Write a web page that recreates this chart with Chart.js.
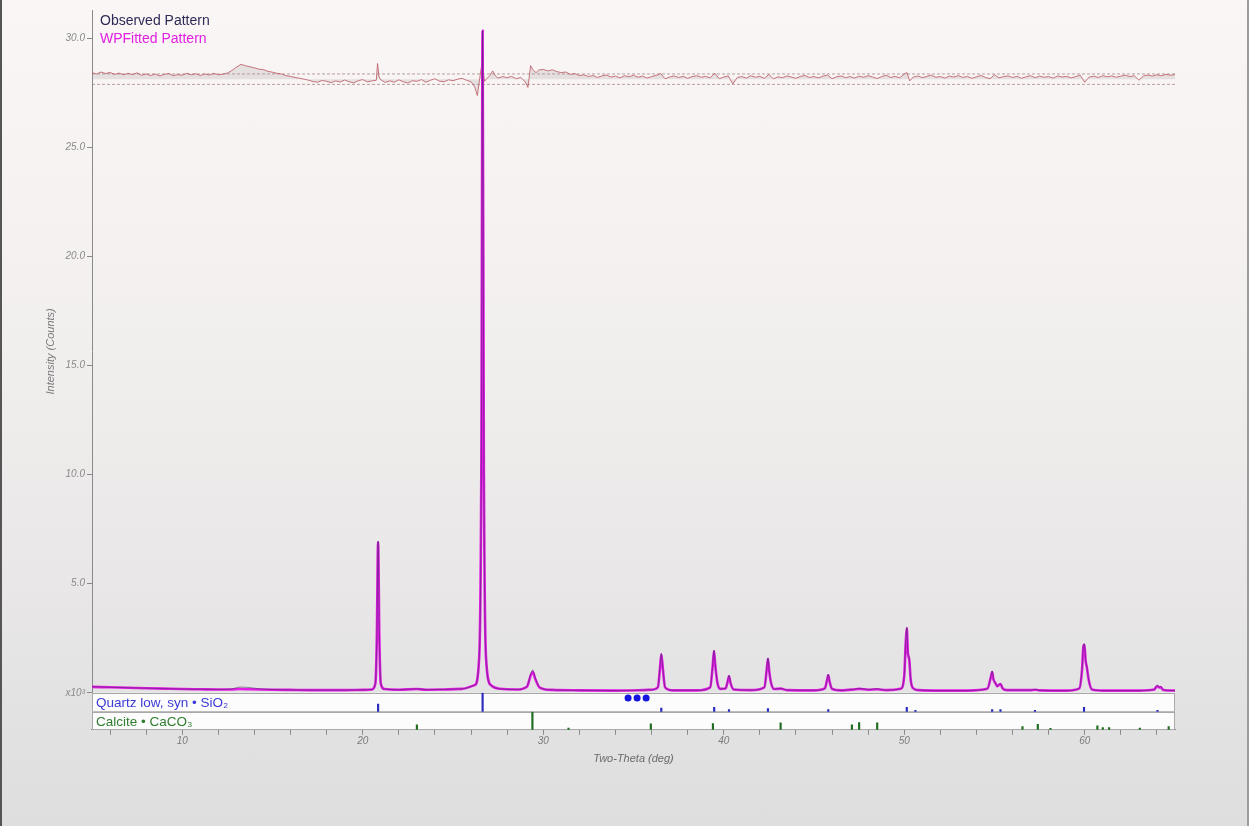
<!DOCTYPE html>
<html>
<head>
<meta charset="utf-8">
<script src="https://cdn.jsdelivr.net/npm/chart.js@4.4.1/dist/chart.umd.min.js"></script>
<style>
  html, body { margin: 0; padding: 0; }
  #wrap {
    position: relative; width: 1249px; height: 826px;
    background: linear-gradient(to bottom, #fbf6f6 0%, #f5f1f1 30%, #e9e7e7 70%, #dedede 100%);
    box-shadow: inset 2px 0 0 #555, inset -2px 0 0 #9c9c9c;
  }
  canvas { position: absolute; left: 0; top: 0; }
</style>
</head>
<body>
<div id="wrap"><canvas id="xrd" width="1249" height="826"></canvas></div>
<script>
// x range (deg 2-theta), tick marks and labelled ticks
const xMin = 5, xMax = 65;
const xTickValues = [6, 8, 10, 12, 14, 16, 18, 20, 22, 24, 26, 28, 30, 32, 34, 36, 38, 40, 42, 44, 46, 48, 50, 52, 54, 56, 58, 60, 62, 64];
const xLabels = [10, 20, 30, 40, 50, 60];

// diffraction pattern, intensity in x10^3 counts
const twoTheta = [5.0, 6.0, 7.0, 8.0, 9.0, 10.0, 11.0, 12.0, 12.7, 13.2, 13.7, 14.3, 15.0, 16.0, 17.0, 18.0, 19.0, 20.0, 20.5,
  20.7, 20.78, 20.85, 20.92, 21.0, 21.2, 22.0, 23.0, 23.5, 24.5, 25.5, 26.2, 26.45, 26.57, 26.64, 26.71, 26.83, 27.1, 27.6, 28.5,
  29.1, 29.3, 29.42, 29.55, 29.8, 30.5, 32.0, 34.0, 35.5, 36.0, 36.35, 36.47, 36.54, 36.62, 36.75, 37.2, 38.5,
  39.25, 39.39, 39.46, 39.53, 39.65, 39.8, 40.1, 40.22, 40.29, 40.38, 40.55, 41.5, 42.25, 42.38, 42.45, 42.52, 42.62, 42.8,
  43.15, 43.5, 45.0, 45.6, 45.72, 45.79, 45.86, 46.0, 46.5, 47.2, 47.5, 48.0, 48.5, 49.0, 49.8, 50.0, 50.08, 50.14, 50.2,
  50.28, 50.36, 50.5, 50.8, 52.0, 53.5, 54.6, 54.8, 54.87, 54.94, 55.05, 55.15, 55.25, 55.33, 55.45, 55.7, 57.0, 57.24,
  57.5, 59.0, 59.7, 59.85, 59.93, 59.98, 60.05, 60.12, 60.22, 60.4, 61.0, 63.0, 63.85, 63.97, 64.03, 64.12, 64.2, 64.35, 65.0];
const observed = [0.28, 0.25, 0.23, 0.21, 0.19, 0.17, 0.16, 0.15, 0.17, 0.26, 0.24, 0.18, 0.15, 0.13, 0.12, 0.12, 0.12, 0.13, 0.15,
  0.45, 2.6, 6.95, 2.6, 0.45, 0.17, 0.14, 0.18, 0.14, 0.15, 0.18, 0.35, 1.6, 10.4, 30.35, 10.4, 1.6, 0.35, 0.18, 0.15,
  0.30, 0.85, 1.05, 0.70, 0.25, 0.13, 0.11, 0.10, 0.12, 0.14, 0.25, 1.2, 1.8, 1.2, 0.25, 0.11, 0.11,
  0.25, 1.3, 1.95, 1.3, 0.45, 0.18, 0.20, 0.55, 0.80, 0.45, 0.15, 0.12, 0.25, 1.1, 1.6, 1.0, 0.45, 0.17,
  0.20, 0.12, 0.11, 0.20, 0.60, 0.85, 0.55, 0.18, 0.11, 0.16, 0.20, 0.15, 0.18, 0.12, 0.18, 0.80, 2.3, 3.0, 1.9,
  1.55, 0.60, 0.20, 0.12, 0.10, 0.10, 0.18, 0.75, 1.0, 0.65, 0.45, 0.30, 0.38, 0.42, 0.20, 0.12, 0.12, 0.15,
  0.11, 0.10, 0.20, 1.1, 2.2, 2.25, 1.5, 1.2, 0.60, 0.15, 0.10, 0.10, 0.15, 0.30, 0.35, 0.25, 0.28, 0.13, 0.10];
const fitted = [0.27, 0.25, 0.23, 0.21, 0.19, 0.17, 0.16, 0.15, 0.15, 0.17, 0.16, 0.15, 0.14, 0.13, 0.12, 0.12, 0.12, 0.13, 0.15,
  0.42, 2.5, 6.9, 2.5, 0.42, 0.17, 0.14, 0.17, 0.14, 0.15, 0.18, 0.35, 1.6, 10.4, 30.35, 10.4, 1.6, 0.35, 0.18, 0.15,
  0.28, 0.78, 0.95, 0.65, 0.24, 0.13, 0.11, 0.10, 0.12, 0.14, 0.25, 1.15, 1.75, 1.15, 0.25, 0.11, 0.11,
  0.25, 1.25, 1.9, 1.25, 0.45, 0.18, 0.20, 0.52, 0.75, 0.43, 0.15, 0.12, 0.25, 1.05, 1.55, 0.98, 0.45, 0.17,
  0.19, 0.12, 0.11, 0.20, 0.57, 0.80, 0.52, 0.18, 0.11, 0.15, 0.18, 0.14, 0.16, 0.12, 0.18, 0.78, 2.25, 2.95, 1.85,
  1.5, 0.58, 0.20, 0.12, 0.10, 0.10, 0.18, 0.72, 0.95, 0.62, 0.44, 0.30, 0.36, 0.40, 0.20, 0.12, 0.12, 0.14,
  0.11, 0.10, 0.20, 1.05, 2.15, 2.2, 1.45, 1.15, 0.58, 0.15, 0.10, 0.10, 0.15, 0.28, 0.30, 0.24, 0.26, 0.13, 0.10];

// difference curve (observed - fitted), x10^3 counts
const resTheta = [5.00, 5.25, 5.50, 5.75, 6.00, 6.25, 6.50, 6.75, 7.00, 7.25, 7.50, 7.75, 8.00, 8.25, 8.50, 8.75, 9.00, 9.25, 9.50, 9.75,
  10.00, 10.25, 10.50, 10.75, 11.00, 11.25, 11.50, 11.75, 12.00, 12.25, 12.50, 12.75, 13.00, 13.25, 13.50, 13.75, 14.00, 14.25, 14.50, 14.75,
  15.00, 15.25, 15.50, 15.75, 16.00, 16.25, 16.50, 16.75, 17.00, 17.25, 17.50, 17.75, 18.00, 18.25, 18.50, 18.75, 19.00, 19.25, 19.50, 19.75,
  20.00, 20.25, 20.50, 20.75, 20.82, 20.90, 21.00, 21.25, 21.50, 21.75, 22.00, 22.25, 22.50, 22.75, 23.00, 23.25, 23.50, 23.75,
  24.00, 24.25, 24.50, 24.75, 25.00, 25.25, 25.50, 25.75, 26.00, 26.20, 26.35, 26.50, 26.60, 26.75, 26.90, 27.05, 27.20, 27.35, 27.50, 27.75,
  28.00, 28.25, 28.50, 28.75, 29.00, 29.15, 29.30, 29.45, 29.60, 29.75, 30.00, 30.25, 30.50, 30.75, 31.00, 31.25, 31.50, 31.75,
  32.00, 32.25, 32.50, 32.75, 33.00, 33.25, 33.50, 33.75, 34.00, 34.25, 34.50, 34.75, 35.00, 35.25, 35.50, 35.75,
  36.00, 36.25, 36.50, 36.75, 37.00, 37.25, 37.50, 37.75, 38.00, 38.25, 38.50, 38.75, 39.00, 39.25, 39.50, 39.75,
  40.00, 40.25, 40.50, 40.75, 41.00, 41.25, 41.50, 41.75, 42.00, 42.25, 42.50, 42.75, 43.00, 43.25, 43.50, 43.75,
  44.00, 44.25, 44.50, 44.75, 45.00, 45.25, 45.50, 45.75, 46.00, 46.25, 46.50, 46.75, 47.00, 47.25, 47.50, 47.75,
  48.00, 48.25, 48.50, 48.75, 49.00, 49.25, 49.50, 49.75, 50.00, 50.15, 50.30, 50.50, 50.75, 51.00, 51.25, 51.50, 51.75,
  52.00, 52.25, 52.50, 52.75, 53.00, 53.25, 53.50, 53.75, 54.00, 54.25, 54.50, 54.75, 55.00, 55.25, 55.50, 55.75,
  56.00, 56.25, 56.50, 56.75, 57.00, 57.25, 57.50, 57.75, 58.00, 58.25, 58.50, 58.75, 59.00, 59.25, 59.50, 59.75,
  60.00, 60.25, 60.50, 60.75, 61.00, 61.25, 61.50, 61.75, 62.00, 62.25, 62.50, 62.75, 63.00, 63.25, 63.50, 63.75,
  64.00, 64.25, 64.50, 64.75, 65.00];
const resDiff = [0.30, 0.24, 0.33, 0.26, 0.31, 0.22, 0.28, 0.20, 0.27, 0.21, 0.29, 0.18, 0.24, 0.17, 0.23, 0.15, 0.22, 0.26, 0.16, 0.21,
  0.18, 0.27, 0.20, 0.25, 0.17, 0.24, 0.19, 0.27, 0.20, 0.23, 0.28, 0.40, 0.55, 0.68, 0.62, 0.57, 0.52, 0.46, 0.44, 0.36,
  0.32, 0.27, 0.24, 0.16, 0.13, 0.08, 0.04, 0.00, -0.05, -0.11, -0.14, -0.06, -0.10, -0.16, -0.08, -0.13, -0.04, -0.12, -0.17, -0.07,
  -0.02, -0.12, -0.08, -0.05, 0.72, 0.12, -0.03, -0.15, -0.08, -0.14, -0.03, -0.12, -0.18, -0.07, -0.10, -0.02, -0.14, -0.05,
  0.02, -0.09, -0.12, -0.03, -0.07, 0.00, 0.04, -0.05, -0.12, -0.35, -0.75, 0.15, 0.72, -0.10, 0.05, 0.18, 0.38, 0.15, 0.05, 0.12,
  0.07, 0.13, 0.02, 0.08, -0.12, -0.38, 0.62, 0.40, 0.30, 0.42, 0.45, 0.38, 0.43, 0.35, 0.30, 0.33, 0.22, 0.26,
  0.16, 0.20, 0.12, 0.17, 0.08, 0.15, 0.19, 0.10, 0.14, 0.06, 0.16, 0.11, 0.18, 0.09, 0.14, 0.05,
  0.12, 0.17, 0.26, 0.02, 0.10, 0.15, 0.08, 0.13, 0.04, 0.12, 0.16, 0.09, 0.13, 0.06, 0.28, 0.02,
  0.10, 0.15, -0.22, 0.08, 0.12, 0.05, 0.16, 0.09, 0.13, 0.04, 0.22, 0.01, 0.11, 0.07, 0.15, 0.10,
  0.04, 0.13, 0.17, 0.08, 0.12, 0.06, 0.14, 0.19, 0.02, 0.11, 0.15, 0.07, 0.12, 0.05, 0.14, 0.09,
  0.16, 0.10, 0.03, 0.12, 0.18, 0.08, 0.13, 0.06, 0.24, 0.30, -0.08, 0.10, 0.15, 0.07, 0.13, 0.18, 0.09,
  0.12, 0.05, 0.14, 0.10, 0.16, 0.08, 0.13, 0.04, 0.11, 0.17, 0.08, 0.02, 0.20, 0.06, 0.12, 0.15,
  0.08, 0.13, 0.04, 0.11, 0.16, 0.07, 0.14, 0.09, 0.12, 0.05, 0.15, 0.10, 0.13, 0.06, 0.12, 0.18,
  -0.14, 0.10, 0.14, 0.08, 0.16, 0.11, 0.15, 0.09, 0.14, 0.18, 0.12, 0.16, -0.05, 0.15, 0.19, 0.14,
  0.20, 0.16, 0.22, 0.18, 0.21];
const resBand = [0.24, -0.24];

// reference sticks (relative intensity 0..1)
const quartzTheta = [20.85, 26.64, 36.54, 39.47, 40.29, 42.45, 45.79, 50.14, 50.62, 54.87, 55.33, 57.24, 59.96, 64.03];
const quartzRel   = [0.40, 1.00, 0.20, 0.24, 0.12, 0.17, 0.12, 0.24, 0.08, 0.12, 0.12, 0.07, 0.24, 0.08];
const calciteTheta = [23.0, 29.4, 31.4, 35.96, 39.4, 43.15, 47.1, 47.5, 48.5, 56.55, 57.4, 58.1, 60.7, 61.0, 61.35, 63.05, 64.65];
const calciteRel   = [0.28, 1.00, 0.10, 0.33, 0.35, 0.38, 0.28, 0.40, 0.38, 0.18, 0.30, 0.08, 0.22, 0.12, 0.12, 0.10, 0.18];
const moreDotsTheta = [34.7, 35.2, 35.7];

const pts = (xs, ys) => xs.map((x, i) => ({ x: x, y: ys[i] }));
const FONT = 'Liberation Sans, Arial, sans-serif';

const stripPlugin = {
  id: 'strips',
  beforeDatasetsDraw(chart) {
    const { ctx, chartArea, scales } = chart;
    ctx.save();
    [scales.yQ, scales.yC].forEach(s => {
      ctx.fillStyle = '#fdfcfc';
      ctx.fillRect(chartArea.left, s.top, chartArea.right - chartArea.left, s.bottom - s.top);
      ctx.strokeStyle = '#a8a8a8';
      ctx.lineWidth = 1;
      ctx.strokeRect(chartArea.left + 0.5, Math.round(s.top) + 0.5, chartArea.right - chartArea.left - 1, s.bottom - s.top - 1);
    });
    ctx.restore();
  },
  afterDraw(chart) {
    const { ctx, chartArea, scales } = chart;
    ctx.save();
    ctx.textBaseline = 'middle';
    ctx.font = '13.5px ' + FONT;
    ctx.fillStyle = '#3b3bd6';
    ctx.fillText('Quartz low, syn \u2022 SiO\u2082', chartArea.left + 4, (scales.yQ.top + scales.yQ.bottom) / 2 + 1);
    ctx.fillStyle = '#2f7d2f';
    ctx.fillText('Calcite \u2022 CaCO\u2083', chartArea.left + 4, (scales.yC.top + scales.yC.bottom) / 2 + 1);
    // legend
    ctx.font = '14px ' + FONT;
    ctx.fillStyle = '#2d2b55';
    ctx.fillText('Observed Pattern', chartArea.left + 8, chartArea.top + 11);
    ctx.fillStyle = '#e020e0';
    ctx.fillText('WPFitted Pattern', chartArea.left + 8, chartArea.top + 29);
    ctx.restore();
  }
};

const fixW = s => { s.width = 52; };

new Chart(document.getElementById('xrd'), {
  type: 'line',
  data: {
    datasets: [
      { label: 'Observed Pattern', data: pts(twoTheta, observed), yAxisID: 'y',
        borderColor: 'rgba(45,35,85,0.5)', borderWidth: 1, pointRadius: 0, cubicInterpolationMode: 'monotone' },
      { label: 'WPFitted Pattern', data: pts(twoTheta, fitted), yAxisID: 'y',
        borderColor: '#e41ee4', borderWidth: 2.6, pointRadius: 0, cubicInterpolationMode: 'monotone' },
      { label: 'Difference', data: pts(resTheta, resDiff), yAxisID: 'yR',
        borderColor: 'rgba(190,95,105,0.85)', borderWidth: 1, pointRadius: 0,
        fill: { value: 0 }, backgroundColor: 'rgba(150,140,145,0.2)' },
      { label: 'band+', data: [{ x: xMin, y: resBand[0] }, { x: xMax, y: resBand[0] }], yAxisID: 'yR',
        borderColor: 'rgba(160,130,130,0.75)', borderWidth: 1, borderDash: [3, 2], pointRadius: 0 },
      { label: 'band-', data: [{ x: xMin, y: resBand[1] }, { x: xMax, y: resBand[1] }], yAxisID: 'yR',
        borderColor: 'rgba(160,130,130,0.75)', borderWidth: 1, borderDash: [3, 2], pointRadius: 0 },
      { type: 'bar', label: 'Quartz', data: pts(quartzTheta, quartzRel), yAxisID: 'yQ',
        backgroundColor: '#2a2ac0', barThickness: 1.5, grouped: false },
      { type: 'bar', label: 'Calcite', data: pts(calciteTheta, calciteRel), yAxisID: 'yC',
        backgroundColor: '#1f6e1f', barThickness: 1.5, grouped: false },
      { type: 'scatter', label: 'more', data: moreDotsTheta.map(t => ({ x: t, y: 0.72 })), yAxisID: 'yQ',
        pointRadius: 3.5, pointBackgroundColor: '#1515e0', pointBorderWidth: 0, showLine: false }
    ]
  },
  options: {
    responsive: false,
    animation: false,
    layout: { padding: { left: 40, top: 10, right: 74, bottom: 60 } },
    plugins: { legend: { display: false }, tooltip: { enabled: false } },
    scales: {
      x: {
        type: 'linear', position: 'bottom', min: xMin, max: xMax, offset: false,
        afterBuildTicks: s => { s.ticks = xTickValues.map(v => ({ value: v })); },
        ticks: { autoSkip: false, maxRotation: 0, padding: 0,
          color: '#7a7a7a', font: { family: FONT, size: 10, style: 'italic' },
          callback: v => xLabels.includes(v) ? String(v) : '' },
        grid: { display: true, offset: false, drawOnChartArea: false, tickLength: 5, color: '#8a8a8a' },
        border: { color: '#8a8a8a' },
        title: { display: true, text: 'Two-Theta (deg)', color: '#6a6a6a', padding: { top: 6, bottom: 0 },
          font: { family: FONT, size: 11, style: 'italic' } }
      },
      yC: {
        position: 'left', stack: 'xrd', stackWeight: 18, min: 0, max: 1,
        ticks: { display: false }, grid: { display: false }, border: { display: false },
        afterFit: fixW
      },
      yQ: {
        position: 'left', stack: 'xrd', stackWeight: 19, min: 0, max: 1,
        ticks: { display: false }, grid: { display: false }, border: { display: false },
        afterFit: fixW
      },
      y: {
        position: 'left', stack: 'xrd', stackWeight: 682, min: 0, max: 31.3,
        ticks: { stepSize: 5, includeBounds: false, padding: 2, color: '#8a8a8a',
          font: { family: FONT, size: 10, style: 'italic' },
          callback: v => v === 0 ? 'x10\u00b3' : v.toFixed(1) },
        grid: { display: true, drawOnChartArea: false, tickLength: 5, color: '#8a8a8a' },
        border: { color: '#8a8a8a' },
        title: { display: true, text: 'Intensity (Counts)', color: '#7a7a7a', padding: 4,
          font: { family: FONT, size: 11, style: 'italic' } },
        afterFit: fixW
      },
      yR: { display: false, position: 'right', min: -29.91, max: 3.18 }
    }
  },
  plugins: [stripPlugin]
});
</script>
</body>
</html>
